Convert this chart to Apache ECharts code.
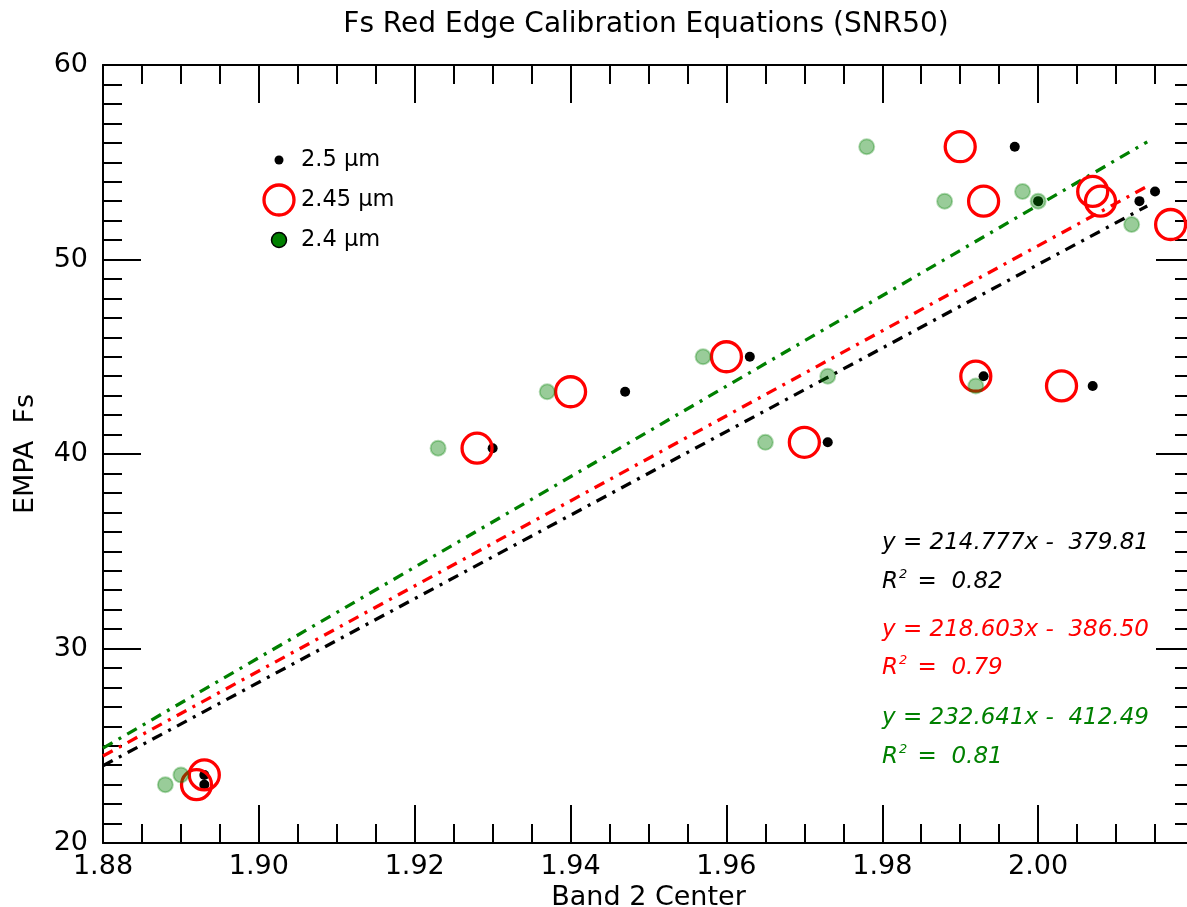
<!DOCTYPE html>
<html><head><meta charset="utf-8">
<script src="https://cdn.jsdelivr.net/npm/echarts@6/dist/echarts.min.js"></script>
<style>html,body{margin:0;padding:0;background:#fff}#c{width:1187px;height:907px}</style>
</head><body><div id="c"></div>
<script>
// ---- data ----
const x25  = [1.893, 1.893, 1.930, 1.947, 1.963, 1.973, 1.997, 2.000, 1.993, 2.007, 2.013, 2.015];
const y25  = [23.5,  23.0,  40.3,  43.2,  45.0,  40.6,  55.8,  53.0,  44.0,  43.5,  53.0,  53.5];
const x245 = [1.892, 1.893, 1.928, 1.940, 1.960, 1.970, 1.990, 1.993, 1.992, 2.003, 2.007, 2.008, 2.017];
const y245 = [23.0,  23.5,  40.3,  43.2,  45.0,  40.6,  55.8,  53.0,  44.0,  43.5,  53.5,  53.0,  51.8];
const x24  = [1.888, 1.890, 1.923, 1.937, 1.957, 1.965, 1.978, 1.988, 1.973, 1.992, 1.998, 2.000, 2.012];
const y24  = [23.0,  23.5,  40.3,  43.2,  45.0,  40.6,  55.8,  53.0,  44.0,  43.5,  53.5,  53.0,  51.8];
const seriesNames = ['2.5 \u00b5m', '2.45 \u00b5m', '2.4 \u00b5m'];
const slopes     = [214.777, 218.603, 232.641];
const intercepts = [-379.81, -386.50, -412.49];
const r2Labels   = ['0.82', '0.79', '0.81'];
const fitRange   = [1.88, 2.014];
const xTickMin = 1.88, xTickMax = 2.02, xTickStep = 0.02;
const yTickMin = 20, yTickMax = 60, yTickStep = 10;

// ---- styles ----
const colors = ['#000000', '#ff0000', '#008000'];
const FONT = 'DejaVu Sans';

function zip(xs, ys) { return xs.map((x, i) => [x, ys[i]]); }
function fitLine(k) {
  return fitRange.map(x => [x, slopes[k] * x + intercepts[k]]);
}
function fmtEq(k) {
  const b = intercepts[k];
  return 'y = ' + slopes[k].toFixed(3) + 'x ' + (b < 0 ? '-' : '+') + '  ' + Math.abs(b).toFixed(2);
}

const axStyle = {color: '#000', width: 2};
function xAx(pos, showLabel) {
  return {
    type: 'value', position: pos, min: xTickMin, max: xTickMax, interval: xTickStep,
    axisLine: {show: true, onZero: false, lineStyle: axStyle},
    axisTick: {show: true, inside: true, length: 38, lineStyle: axStyle},
    minorTick: {show: true, splitNumber: 4, length: 19, lineStyle: axStyle},
    splitLine: {show: false}, minorSplitLine: {show: false},
    axisLabel: {show: showLabel, margin: 10, fontFamily: FONT, fontSize: 27, color: '#000',
      showMaxLabel: false, formatter: v => v.toFixed(2)},
    name: showLabel ? 'Band 2 Center' : '', nameLocation: 'middle', nameGap: 37,
    nameTextStyle: {fontFamily: FONT, fontSize: 27, color: '#000'}
  };
}
function yAx(pos, showLabel) {
  return {
    type: 'value', position: pos, min: yTickMin, max: yTickMax, interval: yTickStep,
    axisLine: {show: true, onZero: false, lineStyle: axStyle},
    axisTick: {show: true, inside: true, length: 38, lineStyle: axStyle},
    minorTick: {show: true, splitNumber: 10, length: 19, lineStyle: axStyle},
    splitLine: {show: false}, minorSplitLine: {show: false},
    axisLabel: {show: showLabel, margin: 15, fontFamily: FONT, fontSize: 27, color: '#000',
      padding: [8, 0, 0, 0]},
    name: showLabel ? 'EMPA  Fs' : '', nameLocation: 'middle', nameGap: 64,
    nameTextStyle: {fontFamily: FONT, fontSize: 27, color: '#000'}
  };
}

const lineSeries = [0, 1, 2].map(k => ({
  type: 'line', data: fitLine(k), symbol: 'none', silent: true, z: 1,
  lineStyle: {color: colors[k], width: 3.3, type: [11, 7, 3, 7]}
}));

const scatterSeries = [
  {type: 'scatter', name: seriesNames[0], data: zip(x25, y25), symbol: 'circle', symbolSize: 10, z: 3,
   itemStyle: {color: '#000', opacity: 1}},
  {type: 'scatter', name: seriesNames[1], data: zip(x245, y245), symbol: 'circle', symbolSize: 30, z: 4,
   itemStyle: {color: 'rgba(0,0,0,0)', borderColor: '#ff0000', borderWidth: 3.3, opacity: 1}},
  {type: 'scatter', name: seriesNames[2], data: zip(x24, y24), symbol: 'circle', symbolSize: 15, z: 5,
   itemStyle: {color: 'rgba(0,128,0,0.4)', borderColor: 'rgba(0,128,0,0.3)', borderWidth: 2, opacity: 1}}
];

// legend & annotations (graphic)
const legendY = [160, 200, 240];
const legendGraphics = [
  {type: 'circle', shape: {cx: 279, cy: legendY[0], r: 4.5}, style: {fill: '#000'}},
  {type: 'circle', shape: {cx: 279, cy: legendY[1], r: 15}, style: {fill: 'none', stroke: '#ff0000', lineWidth: 3.3}},
  {type: 'circle', shape: {cx: 279, cy: legendY[2], r: 7.5}, style: {fill: '#008000', stroke: '#000', lineWidth: 1.5}}
].concat(seriesNames.map((n, i) => ({
  type: 'text', x: 301, y: legendY[i],
  style: {text: n, fontFamily: FONT, fontSize: 22.5, fill: '#000', verticalAlign: 'middle', align: 'left'}
})));

const eqY = [[543, 582], [630, 668], [718, 757]];
const annGraphics = [];
[0, 1, 2].forEach(k => {
  annGraphics.push({type: 'text', x: 882, y: eqY[k][0],
    style: {text: fmtEq(k), fontFamily: FONT, fontStyle: 'italic', fontSize: 23, fill: colors[k],
      verticalAlign: 'middle', align: 'left'}});
  annGraphics.push({type: 'text', x: 882, y: eqY[k][1],
    style: {text: '{r|R}{s|2}{r| =  ' + r2Labels[k] + '}', verticalAlign: 'middle', align: 'left',
      rich: {
        r: {fontFamily: FONT, fontStyle: 'italic', fontSize: 23, fill: colors[k], color: colors[k], lineHeight: 28},
        s: {fontFamily: FONT, fontStyle: 'italic', fontSize: 13, fill: colors[k], color: colors[k], verticalAlign: 'top', lineHeight: 28, padding: [0, 3, 0, 1]}
      }}});
});

const chart = echarts.init(document.getElementById('c'), null, {renderer: 'canvas'});
chart.setOption({
  backgroundColor: '#fff',
  animation: false,
  grid: {left: 103, top: 65, width: 1091, height: 778, containLabel: false, outerBoundsMode: 'none'},
  xAxis: [xAx('bottom', true), xAx('top', false)],
  yAxis: [yAx('left', true), yAx('right', false)],
  series: lineSeries.concat(scatterSeries),
  graphic: [
    {type: 'text', x: 646, y: 25,
     style: {text: 'Fs Red Edge Calibration Equations (SNR50)', fontFamily: FONT, fontSize: 28, fill: '#000',
       align: 'center', verticalAlign: 'middle'}}
  ].concat(legendGraphics, annGraphics)
});
</script></body></html>
